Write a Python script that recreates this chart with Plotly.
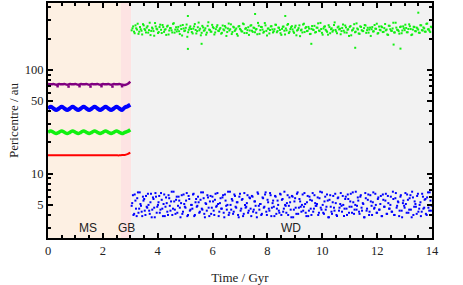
import numpy as np
import plotly.graph_objects as go

# ---------------- data ----------------
t_ms = [0.0, 0.1, 0.2, 0.3, 0.4, 0.5, 0.6, 0.7, 0.8, 0.9, 1.0, 1.1, 1.2, 1.3, 1.4, 1.5,
        1.6, 1.7, 1.8, 1.9, 2.0, 2.1, 2.2, 2.3, 2.4, 2.5, 2.6, 2.7, 2.8, 2.9, 3.0]
purple_ms = [73, 72.5, 73, 72, 73, 72.5, 73, 72, 73, 72.5, 73, 72, 73, 72.5, 73, 72,
             73, 72.5, 73, 72, 73, 72.5, 73, 72, 73, 72.5, 73, 72, 71.5, 73, 77]
blue_ms = [42.5, 44, 42.5, 41, 42.5, 44, 42.5, 41, 42.5, 44, 42.5, 41, 42.5, 44, 42.5, 41,
           42.5, 44, 42.5, 41, 42.5, 44, 42.5, 41, 42.5, 44, 42.5, 41, 43.5, 44.5, 46]
green_ms = [25, 25.7, 25, 24.3, 25, 25.7, 25, 24.3, 25, 25.7, 25, 24.3, 25, 25.7, 25, 24.3,
            25, 25.7, 25, 24.3, 25, 25.7, 25, 24.3, 25, 25.7, 25, 24.3, 25, 25.5, 26.5]
red_ms = [15.0, 15.0, 15.0, 15.0, 15.0, 15.0, 15.0, 15.0, 15.0, 15.0, 15.0, 15.0, 15.0, 15.0, 15.0, 15.0,
          15.0, 15.0, 15.0, 15.0, 15.0, 15.0, 15.0, 15.0, 15.0, 15.0, 15.0, 15.1, 15.1, 15.4, 15.9]

purple_dip_t = [0.35, 0.75, 1.15, 1.55, 1.95, 2.35, 2.7]
purple_dip = [69.5, 69, 69.5, 69, 69.5, 69, 69.5]

green_wd = [
    240, 262, 225, 251, 278, 233, 246, 219, 268, 241, 255, 228, 284, 237, 249, 213, 262, 245, 231, 272,
    226, 258, 243, 217, 266, 239, 252, 229, 281, 244, 234, 259, 221, 247, 270, 236, 254, 208, 243, 262,
    231, 249, 276, 224, 257, 240, 215, 265, 238, 251, 228, 287, 242, 233, 258, 219, 246, 269, 236, 253,
    227, 245, 264, 212, 250, 239, 274, 231, 256, 243, 221, 261, 248, 235, 279, 226, 252, 241, 217, 266,
    238, 255, 230, 247, 283, 222, 259, 244, 233, 268, 214, 250, 242, 263, 229, 246, 271, 236, 254, 225,
    248, 261, 219, 240, 276, 233, 257, 245, 227, 266, 239, 252, 211, 244, 273, 231, 258, 237, 249, 222,
    264, 242, 229, 255, 280, 236, 247, 218, 260, 243, 232, 269, 225, 251, 240, 286, 234, 256, 245, 220,
    253, 238, 267, 228, 246, 259, 215, 242, 275, 233, 250, 224, 262, 241, 236, 270, 227, 254, 244, 212,
    258, 235, 249, 278, 226, 243, 262, 231, 252, 240, 219, 266, 246, 237, 284, 229, 255, 242, 223, 261,
    239, 251, 272, 230, 247, 263, 216, 244, 258, 235, 250, 228, 269, 241, 256, 233, 277, 245, 238, 260]
green_wd_b = [
    251, 233, 268, 244, 222, 259, 238, 275, 247, 229, 263, 241, 216, 255, 236, 282, 249, 226, 258, 243,
    270, 232, 246, 261, 219, 252, 240, 277, 228, 257, 245, 235, 266, 214, 250, 239, 273, 230, 254, 247,
    224, 262, 242, 236, 285, 249, 227, 256, 241, 218, 265, 244, 233, 271, 252, 229, 259, 238, 246, 223,
    267, 240, 255, 231, 279, 246, 221, 260, 237, 250, 213, 264, 243, 234, 275, 248, 226, 257, 239, 269,
    232, 253, 244, 220, 266, 241, 258, 228, 282, 237, 249, 224, 262, 245, 235, 272, 230, 255, 242, 217,
    260, 238, 250, 271, 226, 247, 263, 234, 256, 215, 243, 268, 240, 229, 278, 252, 236, 259, 221, 248,
    244, 265, 231, 254, 239, 283, 227, 250, 262, 237, 218, 258, 246, 233, 270, 242, 225, 261, 248, 236,
    273, 229, 256, 243, 212, 264, 239, 251, 230, 280, 245, 222, 259, 236, 252, 267, 241, 228, 255, 246,
    234, 270, 248, 223, 261, 240, 257, 232, 276, 244, 217, 265, 238, 250, 229, 284, 243, 236, 258, 225,
    262, 241, 253, 230, 274, 247, 219, 260, 236, 255, 244, 227, 268, 239, 251, 233, 279, 246, 231, 257]
green_out_t = [5.1, 5.6, 7.55, 8.65, 5.1, 13.5, 11.2, 12.85, 12.6, 9.6]
green_out = [159, 178, 345, 330, 330, 355, 163, 160, 175, 178]

blue_wd = [
    4.9, 6.2, 4.1, 5.5, 3.9, 6.6, 4.6, 5.1, 4.3, 6.0, 5.7, 4.0, 4.8, 6.4, 4.4, 5.3, 3.8, 5.9, 4.7, 6.5,
    4.2, 5.0, 6.1, 4.5, 5.6, 3.9, 6.3, 4.8, 5.2, 4.0, 5.8, 4.4, 6.7, 4.6, 5.4, 4.1, 6.0, 4.9, 5.5, 3.8,
    6.2, 4.3, 5.1, 4.7, 6.5, 4.0, 5.7, 4.5, 5.0, 6.3, 3.9, 5.3, 4.8, 6.0, 4.2, 5.6, 4.6, 6.6, 4.1, 5.2,
    4.4, 5.9, 3.9, 6.1, 4.7, 5.4, 4.0, 6.4, 4.9, 5.1, 4.3, 5.8, 4.6, 6.2, 3.8, 5.5, 4.5, 6.7, 4.2, 5.0,
    5.7, 4.1, 6.3, 4.8, 5.3, 4.0, 6.0, 4.4, 5.6, 3.9, 6.5, 4.7, 5.2, 4.2, 5.9, 4.6, 6.1, 4.3, 5.4, 4.9,
    3.8, 6.4, 4.5, 5.1, 4.1, 5.8, 4.8, 6.6, 4.0, 5.3, 4.4, 6.2, 4.7, 5.5, 3.9, 6.0, 4.6, 5.0, 4.2, 6.3,
    5.6, 4.3, 6.7, 4.9, 5.2, 4.0, 5.9, 4.5, 6.1, 3.8, 5.4, 4.7, 6.4, 4.1, 5.7, 4.8, 5.0, 4.4, 6.5, 4.2,
    5.3, 3.9, 6.0, 4.6, 5.5, 4.3, 6.2, 4.9, 5.1, 4.0, 5.8, 4.7, 6.6, 4.2, 5.4, 4.5, 6.3, 3.8, 5.6, 4.8,
    4.1, 6.1, 4.4, 5.2, 3.9, 5.9, 4.7, 6.5, 4.3, 5.0, 4.6, 6.0, 4.0, 5.7, 4.8, 6.4, 4.2, 5.3, 4.5, 6.7,
    4.9, 5.5, 4.1, 6.2, 4.4, 5.1, 3.8, 5.8, 4.6, 6.3, 4.3, 5.4, 4.0, 6.6, 4.7, 5.0, 4.2, 5.9, 4.5, 6.1,
    3.9, 5.6, 4.8, 6.4, 4.1, 5.2, 4.6, 6.0, 4.3, 5.7, 4.0, 6.5, 4.9, 5.3, 4.4, 6.2, 3.8, 5.5, 4.7, 5.1,
    6.3, 4.2, 5.8, 4.5, 6.7, 4.0, 5.4, 4.8, 6.1, 4.3, 5.0, 3.9, 6.4, 4.6, 5.6, 4.1, 5.9, 4.7, 6.6, 4.4]
blue_wd_b = [
    5.2, 4.0, 6.3, 4.6, 5.8, 4.2, 6.6, 4.9, 3.9, 5.5, 4.4, 6.1, 4.7, 5.0, 4.1, 6.4, 4.5, 5.7, 3.8, 6.0,
    4.8, 5.3, 4.2, 6.5, 4.6, 5.1, 3.9, 5.9, 4.3, 6.2, 4.9, 5.4, 4.0, 6.7, 4.5, 5.6, 4.2, 6.0, 4.7, 5.2,
    4.1, 6.3, 4.8, 5.5, 3.9, 6.1, 4.4, 5.0, 4.6, 6.4, 4.0, 5.7, 4.9, 5.3, 4.3, 6.6, 4.5, 5.8, 3.8, 5.1,
    6.2, 4.7, 5.4, 4.1, 6.0, 4.4, 5.6, 4.8, 6.5, 3.9, 5.2, 4.6, 5.9, 4.2, 6.3, 4.9, 5.0, 4.0, 6.7, 4.5,
    5.5, 4.3, 6.1, 4.7, 5.3, 3.8, 6.4, 4.6, 5.7, 4.1, 5.0, 4.8, 6.2, 4.4, 5.8, 3.9, 6.0, 4.5, 5.4, 4.2,
    6.6, 4.9, 5.1, 4.0, 5.9, 4.7, 6.3, 4.3, 5.6, 4.6, 6.5, 3.9, 5.2, 4.8, 6.1, 4.1, 5.5, 4.4, 6.4, 4.0,
    5.7, 4.6, 5.0, 4.2, 6.2, 4.9, 5.3, 3.8, 6.0, 4.5, 5.8, 4.1, 6.6, 4.7, 5.4, 4.3, 6.3, 4.8, 5.1, 3.9,
    6.1, 4.4, 5.6, 4.0, 6.5, 4.6, 5.2, 4.9, 5.9, 4.2, 6.7, 4.5, 5.0, 4.1, 6.0, 4.8, 5.5, 3.8, 6.2, 4.3,
    5.3, 4.7, 6.4, 4.0, 5.8, 4.4, 5.1, 4.9, 6.1, 3.9, 5.7, 4.6, 6.3, 4.2, 5.4, 4.8, 6.6, 4.1, 5.0, 4.5,
    5.9, 4.3, 6.0, 4.7, 5.2, 3.8, 6.5, 4.4, 5.6, 4.0, 6.2, 4.9, 5.3, 4.6, 6.4, 4.2, 5.7, 4.5, 5.1, 3.9,
    6.3, 4.8, 5.5, 4.1, 6.1, 4.6, 5.0, 4.3, 6.7, 4.0, 5.8, 4.7, 5.4, 3.9, 6.0, 4.4, 5.2, 4.9, 6.5, 4.2,
    5.6, 4.5, 6.2, 3.8, 5.9, 4.8, 5.1, 4.1, 6.4, 4.6, 5.3, 4.3, 6.0, 4.7, 5.7, 4.0, 6.6, 4.4, 5.5, 4.9]

t_green_wd = np.linspace(3.05, 13.96, len(green_wd))
t_green_wd_b = np.linspace(3.08, 13.99, len(green_wd_b))
t_blue_wd = np.linspace(3.05, 13.96, len(blue_wd))
t_blue_wd_b = np.linspace(3.07, 13.99, len(blue_wd_b))

phases = ["MS", "GB", "WD"]
phase_start = [0.0, 2.66, 3.03]
phase_end = [2.66, 3.03, 14.0]
phase_label_x = [1.45, 2.85, 8.85]
phase_colors = ["#fdf0e3", "#fde3e3", "#f2f2f2"]

x_ticks = [0, 2, 4, 6, 8, 10, 12, 14]
y_ticks = [5, 10, 50, 100]
y_minor = [3, 4, 6, 7, 8, 9, 20, 30, 40, 60, 70, 80, 90, 200, 300, 400]

# ---------------- figure ----------------
PURPLE, BLUE, GREEN, RED = "#800080", "#0000ff", "#11f011", "#ff0000"
fig = go.Figure()

fig.add_trace(go.Scatter(x=t_ms, y=purple_ms, mode="lines", line=dict(color=PURPLE, width=2.5, shape="spline")))
fig.add_trace(go.Scatter(x=purple_dip_t, y=purple_dip, mode="markers",
                         marker=dict(color=PURPLE, size=2.5, symbol="square")))
fig.add_trace(go.Scatter(x=t_ms, y=blue_ms, mode="lines", line=dict(color=BLUE, width=4, shape="spline")))
fig.add_trace(go.Scatter(x=t_ms, y=green_ms, mode="lines", line=dict(color=GREEN, width=3.5, shape="spline")))
fig.add_trace(go.Scatter(x=t_ms, y=red_ms, mode="lines", line=dict(color=RED, width=2, shape="spline")))

dot = lambda c: dict(color=c, size=2, symbol="square", line=dict(width=0))
fig.add_trace(go.Scatter(x=t_green_wd, y=green_wd, mode="markers", marker=dot(GREEN)))
fig.add_trace(go.Scatter(x=t_green_wd_b, y=green_wd_b, mode="markers", marker=dot(GREEN)))
fig.add_trace(go.Scatter(x=green_out_t, y=green_out, mode="markers", marker=dot(GREEN)))
fig.add_trace(go.Scatter(x=t_blue_wd, y=blue_wd, mode="markers", marker=dot(BLUE)))
fig.add_trace(go.Scatter(x=t_blue_wd_b, y=blue_wd_b, mode="markers", marker=dot(BLUE)))

for x0, x1, c in zip(phase_start, phase_end, phase_colors):
    fig.add_shape(type="rect", x0=x0, x1=x1, y0=0, y1=1, xref="x", yref="paper",
                  fillcolor=c, line=dict(width=0), layer="below")

for name, xl in zip(phases, phase_label_x):
    fig.add_annotation(x=xl, y=np.log10(3.0), text=name, showarrow=False,
                       font=dict(family="Liberation Sans, Arial, sans-serif", size=12, color="#222"))

axis_font = dict(family="Liberation Serif, Times New Roman, serif", size=12.5, color="#222")
title_font = dict(family="Liberation Serif, Times New Roman, serif", size=13, color="#222")
fig.update_layout(
    width=463, height=285,
    margin=dict(l=48, r=31, t=3, b=47),
    paper_bgcolor="white", plot_bgcolor="white",
    showlegend=False,
    xaxis=dict(range=[0, 14], tickvals=x_ticks, ticks="inside", ticklen=5, tickwidth=1.5,
               tickcolor="black", showline=True, linecolor="black", linewidth=2, mirror="ticks",
               showgrid=False, zeroline=False, tickfont=axis_font, automargin=False,
               minor=dict(dtick=0.5, ticks="inside", ticklen=3, tickcolor="black", showgrid=False),
               title=dict(text="Time / Gyr", font=title_font, standoff=16)),
    yaxis=dict(type="log", range=[np.log10(2.4), np.log10(440)], tickvals=y_ticks,
               ticktext=[str(v) for v in y_ticks], ticks="inside", ticklen=5, tickwidth=1.5,
               tickcolor="black", showline=True, linecolor="black", linewidth=2, mirror="ticks",
               showgrid=False, zeroline=False, tickfont=axis_font, automargin=False,
               minor=dict(tickvals=y_minor, ticks="inside", ticklen=3, tickcolor="black", showgrid=False),
               title=dict(text="Pericentre / au", font=title_font, standoff=3)),
)

fig.write_html("out.html", config={"displayModeBar": False},
               post_script="document.body.style.margin='0px';")
